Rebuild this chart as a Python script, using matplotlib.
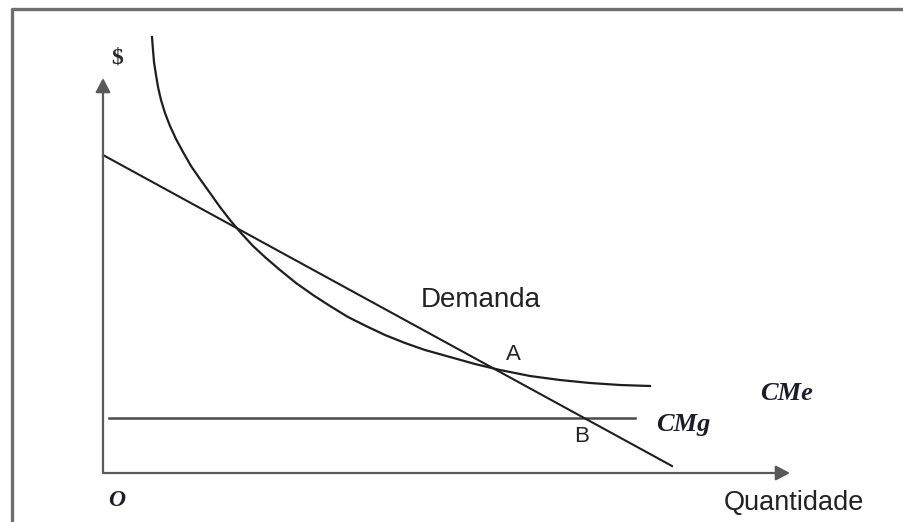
import matplotlib
matplotlib.use("Agg")
import matplotlib.pyplot as plt

# eixos em unidades arbitrárias: quantidade (q) e preço ($)
demanda_q = [0.0, 56.9]
demanda_p = [31.8, 0.7]

cme_q = [4.9, 5.0, 5.1, 5.3, 5.5, 5.8, 6.2, 6.7, 7.3, 8.0, 8.8, 9.7, 10.7,
         11.7, 12.7, 13.8, 15.0, 16.3, 17.7, 19.3, 21.0, 22.7, 24.5, 26.3,
         28.2, 30.2, 32.2, 34.7, 37.2, 39.7, 42.7, 45.7, 48.7, 51.7, 54.7]
cme_p = [43.6, 42.3, 41.1, 39.8, 38.6, 37.3, 36.0, 34.7, 33.4, 32.1, 30.7,
         29.4, 28.0, 26.6, 25.3, 24.0, 22.7, 21.5, 20.3, 19.0, 17.8, 16.7,
         15.6, 14.7, 13.8, 13.0, 12.3, 11.6, 10.9, 10.3, 9.7, 9.3, 9.0, 8.8, 8.7]

cmg_q = [0.6, 53.2]
cmg_p = [5.5, 5.5]

eixo_q_max = 68.7
eixo_p_max = 39.5

fig = plt.figure(figsize=(9.04, 5.22), dpi=100)
ax = fig.add_axes([0, 0, 1, 1])
ax.set_xlim(-10.3, 80.1)
ax.set_ylim(-4.9, 47.3)
ax.axis("off")

# moldura (só topo e esquerda visíveis)
ax.plot([0.0133, 0.0133, 1.0], [0.0, 0.983, 0.983], transform=ax.transAxes,
        color="#6e6e6e", lw=2.4, solid_capstyle="butt")

# eixos com setas
seta = dict(arrowstyle="-|>,head_length=0.85,head_width=0.45", color="#5a5a5a",
            lw=1.6, shrinkA=0, shrinkB=0, mutation_scale=10)
ax.annotate("", xy=(0, eixo_p_max), xytext=(0, 0), arrowprops=seta)
ax.annotate("", xy=(eixo_q_max, 0), xytext=(0, 0), arrowprops=seta)

# curvas
ax.plot(cmg_q, cmg_p, color="#4a4a4a", lw=1.8)
ax.plot(demanda_q, demanda_p, color="#1e1e1e", lw=1.5)
ax.plot(cme_q, cme_p, color="#1e1e1e", lw=1.6, solid_joinstyle="round")

serif = dict(family="Liberation Serif", style="italic", weight="bold", color="#1c1c2a")
sans = dict(family="Liberation Sans", color="#222222")

ax.text(1.4, 41.5, "$", fontsize=17, ha="center", va="center",
        family="Liberation Serif", weight="bold", color="#2a2a2a")
ax.text(1.4, -2.7, "O", fontsize=17, ha="center", va="center", **serif)
ax.text(68.4, 8.0, "CMe", fontsize=19, ha="center", va="center", **serif)
ax.text(58.0, 4.8, "CMg", fontsize=19, ha="center", va="center", **serif)

ax.text(69.1, -3.0, "Quantidade", fontsize=19.5, ha="center", va="center", **sans)
ax.text(37.8, 17.3, "Demanda", fontsize=20, ha="center", va="center", **sans)
ax.text(41.0, 11.8, "A", fontsize=16, ha="center", va="center", **sans)
ax.text(47.9, 3.6, "B", fontsize=16, ha="center", va="center", **sans)

fig.savefig("out.png", dpi=100, facecolor="white")
